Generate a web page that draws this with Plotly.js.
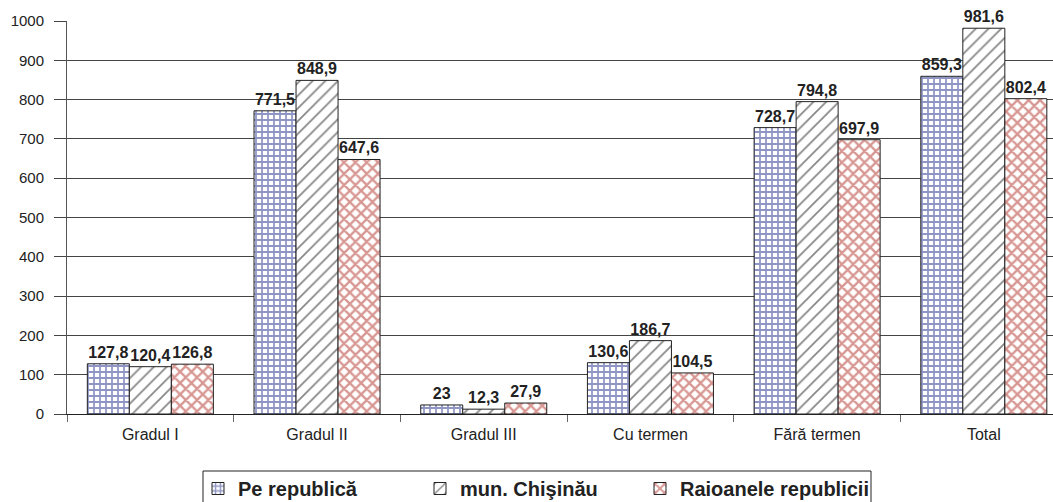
<!DOCTYPE html>
<html>
<head>
<meta charset="utf-8">
<script src="https://cdn.plot.ly/plotly-3.0.1.min.js"></script>
<style>
html,body{margin:0;padding:0;background:#fff;}
#chart{width:1053px;height:502px;}
</style>
</head>
<body>
<div id="chart"></div>
<script>
const categories = ["Gradul I", "Gradul II", "Gradul III", "Cu termen", "Fără termen", "Total"];
const seriesNames = ["Pe republică", "mun. Chişinău", "Raioanele republicii"];
const peRepublica = [127.8, 771.5, 23, 130.6, 728.7, 859.3];
const munChisinau = [120.4, 848.9, 12.3, 186.7, 794.8, 981.6];
const raioanele = [126.8, 647.6, 27.9, 104.5, 697.9, 802.4];
const yTicks = [0, 100, 200, 300, 400, 500, 600, 700, 800, 900, 1000];

const fmt = v => String(v).replace('.', ',');
const FONT = "Liberation Sans, Arial, sans-serif";

function mkTrace(name, vals, pattern, legendId) {
  return {
    type: 'bar',
    name: name,
    legend: legendId,
    x: categories,
    y: vals,
    text: vals.map(fmt),
    textposition: 'outside',
    cliponaxis: false,
    constraintext: 'none',
    textfont: {family: FONT, size: 16, color: '#222', weight: 'bold'},
    hoverinfo: 'skip',
    marker: {
      color: '#ffffff',
      line: {color: '#222', width: 1},
      pattern: pattern
    }
  };
}

const traces = [
  mkTrace(seriesNames[0], peRepublica, {shape: '+', fgcolor: '#1f2c8a', bgcolor: '#ffffff', size: 6, solidity: 0.5, fillmode: 'overlay'}, 'legend'),
  mkTrace(seriesNames[1], munChisinau, {shape: '/', fgcolor: '#111111', bgcolor: '#ffffff', size: 9, solidity: 0.2, fillmode: 'overlay'}, 'legend2'),
  mkTrace(seriesNames[2], raioanele, {shape: 'x', fgcolor: '#b02e25', bgcolor: '#ffffff', size: 8, solidity: 0.5, fillmode: 'overlay'}, 'legend3')
];

// plot area: left 67px, width 986px, height 393px
const px2x = p => (p - 67) / 986;
const px2y = p => (414 - p) / 393;

function legendAt(xpx) {
  return {
    orientation: 'h',
    x: px2x(xpx), xanchor: 'left',
    y: px2y(469), yanchor: 'top',
    borderwidth: 0,
    bgcolor: 'rgba(0,0,0,0)',
    font: {family: FONT, size: 20, color: '#222', weight: 'bold'},
    itemwidth: 30
  };
}

const layout = {
  width: 1053,
  height: 502,
  margin: {l: 67, r: 0, t: 21, b: 88, autoexpand: false},
  paper_bgcolor: '#ffffff',
  plot_bgcolor: '#ffffff',
  font: {family: FONT, color: '#222'},
  barmode: 'group',
  bargap: 0.244,
  bargroupgap: 0,
  showlegend: true,
  legend: legendAt(198),
  legend2: legendAt(420),
  legend3: legendAt(640),
  shapes: [{
    type: 'rect', xref: 'paper', yref: 'paper',
    x0: px2x(203), x1: px2x(871), y0: px2y(471), y1: px2y(520),
    line: {color: '#222', width: 1},
    fillcolor: 'rgba(0,0,0,0)',
    layer: 'above'
  }],
  xaxis: {
    type: 'category',
    range: [-0.5, 5.415],
    showline: true, linecolor: '#222', linewidth: 1,
    ticks: 'outside', tickson: 'boundaries', ticklen: 7, tickcolor: '#666',
    tickfont: {family: FONT, size: 16, color: '#222'},
    ticklabelstandoff: 6,
    showgrid: false, zeroline: false,
    fixedrange: true
  },
  yaxis: {
    range: [0, 1000],
    tickvals: yTicks,
    ticktext: yTicks.map(String),
    showline: true, linecolor: '#555', linewidth: 1,
    ticks: 'outside', ticklen: 12, tickcolor: '#444',
    tickfont: {family: FONT, size: 15, color: '#222'},
    ticklabelstandoff: 7,
    showgrid: true, gridcolor: '#444', gridwidth: 1,
    zeroline: false,
    fixedrange: true
  }
};

Plotly.newPlot('chart', traces, layout, {displayModeBar: false, staticPlot: true});
</script>
</body>
</html>
